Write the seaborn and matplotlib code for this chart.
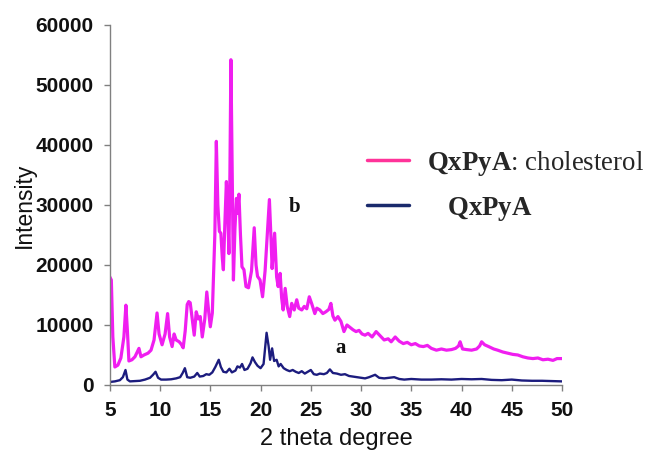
import matplotlib
matplotlib.use("Agg")
import matplotlib.pyplot as plt
import seaborn as sns
import pandas as pd
from matplotlib.lines import Line2D

# ---------------- data ----------------
pink_x = [5.0, 5.15, 5.3, 5.5, 5.8, 6.1, 6.4, 6.6, 6.75, 6.9, 7.2, 7.5, 7.9, 8.1, 8.4, 8.8,
          9.1, 9.4, 9.7, 9.9, 10.2, 10.5, 10.75, 10.95, 11.2, 11.4, 11.6, 11.9, 12.1, 12.3,
          12.5, 12.7, 12.85, 13.0, 13.2, 13.4, 13.6, 13.8, 14.0, 14.2, 14.45, 14.65, 14.85,
          15.0, 15.2, 15.45, 15.6, 15.75, 15.9, 16.05, 16.2, 16.3, 16.45, 16.6, 16.75, 16.85,
          16.95, 17.05, 17.15, 17.3, 17.45, 17.6, 17.7, 17.85, 18.0, 18.15, 18.35, 18.55,
          18.8, 19.1, 19.37, 19.55, 19.7, 19.95, 20.2, 20.45, 20.7, 20.88, 21.05, 21.15,
          21.4, 21.6, 21.75, 21.95, 22.1, 22.25, 22.45, 22.65, 22.9, 23.1, 23.35, 23.6,
          23.8, 24.1, 24.35, 24.6, 24.85, 25.1, 25.4, 25.6, 25.9, 26.2, 26.5, 26.8, 27.0,
          27.2, 27.4, 27.7, 28.0, 28.3, 28.6, 28.9, 29.2, 29.5, 29.8, 30.1, 30.4, 30.7,
          31.1, 31.5, 31.9, 32.3, 32.7, 33.0, 33.4, 33.8, 34.2, 34.6, 35.0, 35.4, 35.8,
          36.2, 36.6, 37.0, 37.5, 38.0, 38.5, 39.0, 39.4, 39.7, 39.86, 40.1, 40.5, 41.0,
          41.5, 41.8, 42.0, 42.3, 42.7, 43.2, 43.6, 44.1, 44.6, 45.1, 45.6, 46.1, 46.6,
          47.1, 47.6, 48.1, 48.6, 49.1, 49.5, 50.0]
pink_y = [18000, 17500, 8000, 3000, 3300, 4500, 8000, 13300, 9000, 4000, 4200, 4700, 6100,
          4700, 5000, 5300, 5800, 7500, 12000, 8500, 6700, 8500, 11900, 8000, 6400, 8500,
          7500, 7200, 6800, 6200, 9000, 13400, 13900, 13700, 11000, 8300, 12200, 11000,
          11400, 8000, 11000, 15500, 12000, 9700, 12000, 25000, 40600, 30000, 25600, 25300,
          21000, 19200, 27000, 33900, 28000, 21900, 35000, 54200, 40000, 17500, 26000,
          31100, 28600, 31800, 25000, 19700, 19200, 16400, 16200, 19000, 26200, 20000,
          18100, 17500, 14700, 19000, 26000, 30900, 24000, 19400, 25300, 18000, 16400,
          18600, 14500, 12500, 16100, 13100, 11400, 13600, 12500, 14200, 12800, 12500,
          13100, 12700, 14700, 13500, 11900, 12800, 12500, 11900, 12200, 12600, 13600,
          11500, 10800, 11400, 10600, 8900, 10000, 9600, 9200, 8900, 9100, 8500, 8300,
          8600, 8000, 8900, 8200, 7500, 7700, 7200, 8000, 7300, 6900, 7100, 6700, 6900,
          6500, 6400, 6600, 6100, 5800, 6000, 5800, 5900, 6100, 6500, 7200, 6000, 5900,
          5800, 6000, 6500, 7200, 6700, 6400, 6000, 5800, 5500, 5300, 5100, 5000, 4700,
          4500, 4400, 4500, 4200, 4300, 4100, 4400, 4400]

blue_x = [5.0, 5.5, 6.0, 6.3, 6.56, 6.75, 7.0, 7.5, 8.0, 8.5, 9.0, 9.3, 9.55, 9.8, 10.1,
          10.6, 11.1, 11.6, 12.0, 12.25, 12.47, 12.7, 13.0, 13.4, 13.7, 13.95, 14.3, 14.6,
          14.9, 15.2, 15.5, 15.84, 16.05, 16.3, 16.6, 16.9, 17.15, 17.5, 17.7, 17.95, 18.16,
          18.4, 18.7, 19.0, 19.2, 19.45, 19.7, 20.0, 20.3, 20.6, 20.8, 20.95, 21.15, 21.35,
          21.6, 21.8, 22.0, 22.3, 22.6, 22.9, 23.2, 23.5, 23.8, 24.1, 24.4, 24.7, 25.0,
          25.3, 25.6, 25.9, 26.3, 26.6, 26.9, 27.2, 27.6, 28.0, 28.4, 28.8, 29.2, 29.6,
          30.0, 30.4, 30.8, 31.4, 31.8, 32.3, 32.8, 33.3, 33.8, 34.3, 35.0, 36.0, 37.0,
          38.0, 39.0, 40.0, 41.0, 42.0, 43.0, 44.0, 45.0, 46.0, 47.0, 48.0, 49.0, 50.0]
blue_y = [500, 600, 800, 1300, 2500, 900, 600, 650, 700, 900, 1200, 1700, 2200, 1200, 900,
          900, 950, 1100, 1300, 2000, 2800, 1300, 1200, 1400, 2000, 1400, 1500, 1800, 1700,
          2100, 3000, 4200, 3000, 2200, 2100, 2700, 2100, 2400, 3100, 2900, 3500, 2500,
          2700, 3600, 4600, 3800, 3200, 2800, 3500, 8700, 6500, 4200, 6100, 4000, 4200,
          3100, 3500, 2800, 2500, 2300, 2500, 2200, 2000, 2300, 1900, 2200, 2500, 1800,
          1700, 1900, 1800, 2000, 2600, 2000, 1900, 1700, 1800, 1500, 1400, 1300, 1200,
          1100, 1300, 1700, 1200, 1100, 1200, 1300, 1000, 900, 1000, 900, 900, 950, 900,
          1000, 950, 1000, 850, 800, 900, 750, 700, 700, 650, 600]

series_labels = [r"$\mathbf{QxPyA}$: cholesterol", r"   $\mathbf{QxPyA}$"]
x_ticks = [5, 10, 15, 20, 25, 30, 35, 40, 45, 50]
y_ticks = [0, 10000, 20000, 30000, 40000, 50000, 60000]

# ---------------- plot ----------------
sns.set_theme(style="white")
plt.rcParams["font.family"] = ["Liberation Sans", "DejaVu Sans"]
plt.rcParams["mathtext.fontset"] = "custom"
plt.rcParams["mathtext.rm"] = "Liberation Serif"
plt.rcParams["mathtext.bf"] = "Liberation Serif:bold"

fig = plt.figure(figsize=(6.46, 4.62), dpi=100)
ax = fig.add_axes([0.170, 0.1667, 0.700, 0.7793])

df_p = pd.DataFrame({"x": pink_x, "y": pink_y})
df_b = pd.DataFrame({"x": blue_x, "y": blue_y})
sns.lineplot(data=df_p, x="x", y="y", ax=ax, color="#F01EF0", linewidth=2.3, estimator=None, sort=False)
sns.lineplot(data=df_b, x="x", y="y", ax=ax, color="#1C1C7E", linewidth=1.7, estimator=None, sort=False)

ax.set_xlim(5, 50)
ax.set_ylim(0, 60000)
ax.set_xticks(x_ticks)
ax.set_yticks(y_ticks)
ax.set_xticklabels([str(t) for t in x_ticks], fontweight="bold", fontsize=15)
ax.set_yticklabels([str(t) for t in y_ticks], fontweight="bold", fontsize=15)
ax.tick_params(axis="both", direction="out", length=4.5, width=1, color="#808080",
               pad=7, labelcolor="#111111")
ax.tick_params(axis="x", bottom=True)
ax.tick_params(axis="y", left=True)

for s in ["top", "right"]:
    ax.spines[s].set_visible(False)
for s in ["left", "bottom"]:
    ax.spines[s].set_color("#808080")
    ax.spines[s].set_linewidth(1.0)

ax.set_xlabel("2 theta degree", fontsize=17, color="#111111", labelpad=6)
ax.set_ylabel("Intensity", fontsize=16.5, color="#111111", labelpad=0)

ax.text(23.4, 29700, "b", fontfamily="Liberation Serif", fontweight="bold", fontsize=15,
        ha="center", va="center", color="#111111")
ax.text(28.0, 6200, "a", fontfamily="Liberation Serif", fontweight="bold", fontsize=15,
        ha="center", va="center", color="#111111")

handles = [Line2D([0], [0], color="#FF3399", lw=2.5),
           Line2D([0], [0], color="#1A2A6C", lw=2.5)]
ax.legend(handles, series_labels, loc="upper left", bbox_to_anchor=(0.546, 0.686),
          frameon=False, prop={"family": "Liberation Serif", "size": 19.4},
          handlelength=1.55, handletextpad=0.67, labelspacing=0.63, borderaxespad=0)

fig.savefig("out.png", dpi=100)
